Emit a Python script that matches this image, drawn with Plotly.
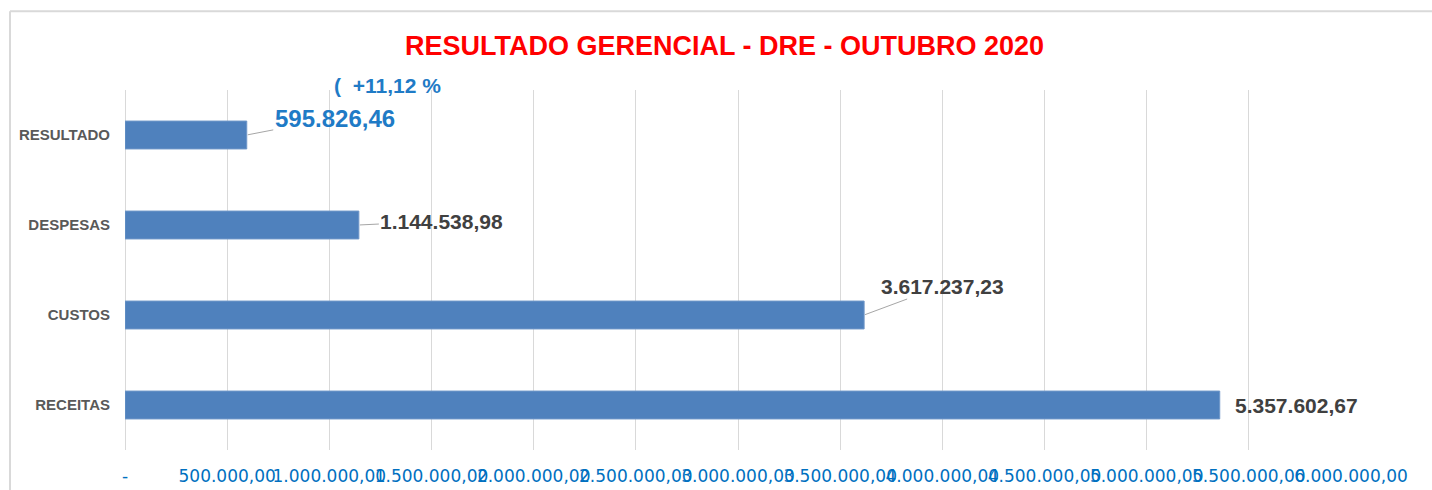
import plotly.graph_objects as go

categories = ["RECEITAS", "CUSTOS", "DESPESAS", "RESULTADO"]
values = [5357602.67, 3617237.23, 1144538.98, 595826.46]
value_labels = ["5.357.602,67", "3.617.237,23", "1.144.538,98", "595.826,46"]
percent_label = "(\u00a0\u00a0+11,12 %"
tick_vals = [0, 500000, 1000000, 1500000, 2000000, 2500000, 3000000,
             3500000, 4000000, 4500000, 5000000, 5500000, 6000000]
tick_text = ["-", "500.000,00", "1.000.000,00", "1.500.000,00", "2.000.000,00",
             "2.500.000,00", "3.000.000,00", "3.500.000,00", "4.000.000,00",
             "4.500.000,00", "5.000.000,00", "5.500.000,00", "6.000.000,00"]
title_text = "RESULTADO GERENCIAL - DRE - OUTUBRO 2020"

BAR = "#4F81BD"
BLUE_TXT = "#1F7BC6"
GRAY_TXT = "#404040"
FONT = "Liberation Sans, Arial"

fig = go.Figure()
fig.add_trace(go.Bar(
    y=categories, x=values, orientation="h", width=0.31,
    marker=dict(color=BAR, line=dict(color="#6F97C8", width=1)),
    hoverinfo="skip", showlegend=False,
))

# label offsets (pixels) per category
offsets = {
    "RESULTADO": (88, -17, True, BLUE_TXT),
    "DESPESAS": (83, -4, True, GRAY_TXT),
    "CUSTOS": (78, -29, True, GRAY_TXT),
    "RECEITAS": (77, 0, False, GRAY_TXT),
}
for cat, val, lab in zip(categories, values, value_labels):
    ax, ay, arrow, col = offsets[cat]
    big = cat == "RESULTADO"
    font = dict(family=FONT, size=24 if big else 21, color=col, weight="bold")
    if arrow:
        fig.add_annotation(x=val, y=cat, text=lab, showarrow=True, arrowhead=0,
                           arrowwidth=1, arrowcolor="#A6A6A6", ax=ax, ay=ay,
                           standoff=1, font=font)
    else:
        fig.add_annotation(x=val, y=cat, text=lab, showarrow=False,
                           xshift=ax, yshift=-ay, font=font)

fig.add_annotation(x=values[3], y="RESULTADO", text=percent_label, showarrow=False,
                   xshift=141, yshift=50,
                   font=dict(family=FONT, size=21, color=BLUE_TXT, weight="bold"))

# outer chart frame (Excel style)
fig.add_shape(type="line", xref="paper", yref="paper", x0=-0.0938, x1=1.1, y0=1.219, y1=1.219,
              line=dict(color="#D9D9D9", width=2))
fig.add_shape(type="line", xref="paper", yref="paper", x0=-0.0938, x1=-0.0938, y0=-0.2, y1=1.219,
              line=dict(color="#D9D9D9", width=2))

fig.update_layout(
    width=1432, height=490,
    margin=dict(l=125, r=81, t=90, b=40),
    paper_bgcolor="white", plot_bgcolor="white",
    title=dict(text=title_text, x=0.506, xanchor="center", y=0.908, yanchor="middle",
               font=dict(family=FONT, size=27, color="#FF0000", weight="bold")),
    bargap=0.69,
)
fig.update_xaxes(
    range=[0, 6000000], tickvals=tick_vals, ticktext=tick_text, tickangle=0,
    showgrid=True, gridcolor="#D9D9D9", gridwidth=1,
    zeroline=True, zerolinecolor="#D9D9D9", zerolinewidth=1,
    showline=False, ticks="", automargin=False,
    tickfont=dict(family="DejaVu Sans", size=17, color="#0070C0"),
    ticklabelstandoff=14,
)
fig.update_yaxes(
    categoryorder="array", categoryarray=categories, range=[-0.5, 3.5],
    showgrid=False, showline=False, ticks="", automargin=False,
    tickfont=dict(family=FONT, size=15, color="#595959", weight="bold"),
    ticklabelstandoff=14,
)

fig.write_html(
    "out.html",
    config={"displayModeBar": False},
    post_script="document.body.style.margin='0';document.body.style.padding='0';",
)
